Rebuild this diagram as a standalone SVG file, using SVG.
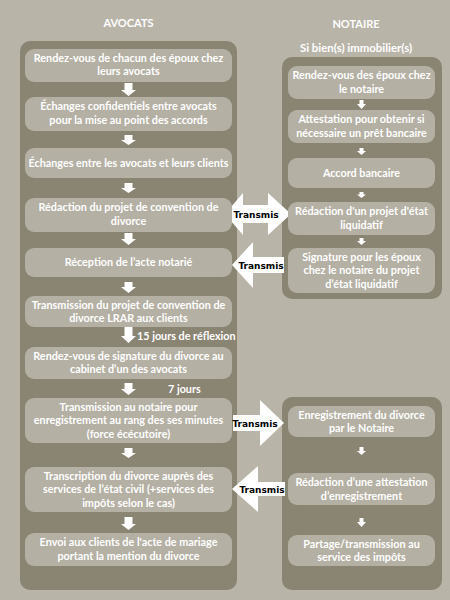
<svg xmlns="http://www.w3.org/2000/svg" width="450" height="600" viewBox="0 0 450 600">
<style>
.bg{fill:#b8b4a8}
.panel{fill:#8a8473}
.box{fill:#b4b0a3}
.t{font-family:Lato,"Open Sans","Liberation Sans",sans-serif;font-weight:700;font-size:10.8px;fill:#ffffff;text-anchor:middle}
.h{font-family:Lato,"Open Sans","Liberation Sans",sans-serif;font-weight:700;font-size:11px;fill:#ffffff;text-anchor:middle}
.s{font-family:Lato,"Open Sans","Liberation Sans",sans-serif;font-weight:700;font-size:11.4px;fill:#ffffff;text-anchor:middle}
.lab{font-family:Lato,"Open Sans","Liberation Sans",sans-serif;font-weight:700;font-size:10.8px;fill:#ffffff}
.tr{font-family:"DejaVu Sans","Liberation Sans",sans-serif;font-weight:700;font-size:9px;fill:#000000;text-anchor:middle}
.arr{fill:#ffffff}
</style>
<rect class="bg" x="0" y="0" width="450" height="600"/>
<text class="h" x="128.5" y="27">AVOCATS</text>
<text class="h" x="356" y="28">NOTAIRE</text>
<text class="s" x="356" y="52">Si bien(s) immobilier(s)</text>
<rect class="panel" x="20" y="41" width="217" height="549" rx="10"/>
<rect class="panel" x="282" y="57" width="160" height="242" rx="10"/>
<rect class="panel" x="282" y="397" width="160" height="193" rx="10"/>

<g id="connectors">
<path class="arr" d="M124.5,83 H132.5 V90 H136 L128.5,96 L121,90 H124.5 Z"/>
<path class="arr" d="M124.5,135 H132.5 V140 H136 L128.5,145 L121,140 H124.5 Z"/>
<path class="arr" d="M124.5,183 H132.5 V188 H136 L128.5,193 L121,188 H124.5 Z"/>
<path class="arr" d="M124.5,233 H132.5 V239 H136 L128.5,245 L121,239 H124.5 Z"/>
<path class="arr" d="M124.5,282 H132.5 V287 H136 L128.5,293 L121,287 H124.5 Z"/>
<path class="arr" d="M124.5,326 H132.5 V336 H136 L128.5,343 L121,336 H124.5 Z"/>
<path class="arr" d="M124.5,383 H132.5 V389 H136 L128.5,395 L121,389 H124.5 Z"/>
<path class="arr" d="M124.5,448 H132.5 V453 H136 L128.5,458 L121,453 H124.5 Z"/>
<path class="arr" d="M124.5,517 H132.5 V524 H136 L128.5,530 L121,524 H124.5 Z"/>
<path class="arr" d="M359.5,100 H363.5 V104 H366 L361.5,109 L357,104 H359.5 Z"/>
<path class="arr" d="M359.5,148 H363.5 V151 H366 L361.5,155 L357,151 H359.5 Z"/>
<path class="arr" d="M359.5,192 H363.5 V194.5 H366 L361.5,198 L357,194.5 H359.5 Z"/>
<path class="arr" d="M359.5,238 H363.5 V241 H366 L361.5,245 L357,241 H359.5 Z"/>
<path class="arr" d="M359.5,447 H363.5 V451 H366 L361.5,455 L357,451 H359.5 Z"/>
<path class="arr" d="M359.5,518 H363.5 V522 H366 L361.5,527 L357,522 H359.5 Z"/>
<text class="lab" x="137" y="340">15 jours de réflexion</text>
<text class="lab" x="168" y="393">7 jours</text>
<path class="arr" d="M225,214 L243,193 V205 H268 V193 L291,214 L268,235 V223 H243 V235 Z"/>
<text class="tr" x="256" y="217.5">Transmis</text>
<path class="arr" d="M232,265 L253,242 V257 H284 V273 H253 V288 Z"/>
<text class="tr" x="261" y="268.5">Transmis</text>
<path class="arr" d="M233,415 H260 V400 L284,423 L260,446 V431 H233 Z"/>
<text class="tr" x="255" y="426.5">Transmis</text>
<path class="arr" d="M232,489 L258,466 V482 H285 V496 H258 V512 Z"/>
<text class="tr" x="262" y="492.5">Transmis</text>
</g>

<g id="a1"><rect class="box" x="25" y="49" width="207" height="33" rx="9"/><text class="t" x="128.5" y="61.5">Rendez-vous de chacun des époux chez</text><text class="t" x="128.5" y="75">leurs avocats</text></g>
<g id="a2"><rect class="box" x="25" y="97" width="207" height="34" rx="9"/><text class="t" x="128.5" y="110">Échanges confidentiels entre avocats</text><text class="t" x="128.5" y="124">pour la mise au point des accords</text></g>
<g id="a3"><rect class="box" x="25" y="148" width="207" height="30" rx="9"/><text class="t" x="128.5" y="167">Échanges entre les avocats et leurs clients</text></g>
<g id="a4"><rect class="box" x="25" y="198" width="207" height="34" rx="9"/><text class="t" x="128.5" y="211">Rédaction du projet de convention de</text><text class="t" x="128.5" y="225">divorce</text></g>
<g id="a5"><rect class="box" x="25" y="248" width="207" height="29" rx="9"/><text class="t" x="128.5" y="266">Réception de l’acte notarié</text></g>
<g id="a6"><rect class="box" x="25" y="296" width="207" height="31" rx="9"/><text class="t" x="128.5" y="308.5">Transmission du projet de convention de</text><text class="t" x="128.5" y="321.5">divorce LRAR aux clients</text></g>
<g id="a7"><rect class="box" x="25" y="347" width="207" height="32" rx="9"/><text class="t" x="128.5" y="359.5">Rendez-vous de signature du divorce au</text><text class="t" x="128.5" y="373">cabinet d’un des avocats</text></g>
<g id="a8"><rect class="box" x="25" y="398" width="207" height="45" rx="9"/><text class="t" x="128.5" y="410.5">Transmission au notaire pour</text><text class="t" x="128.5" y="424">enregistrement au rang des ses minutes</text><text class="t" x="128.5" y="437.5">(force écécutoire)</text></g>
<g id="a9"><rect class="box" x="25" y="467" width="207" height="45" rx="9"/><text class="t" x="128.5" y="479.5">Transcription du divorce auprès des</text><text class="t" x="128.5" y="493">services de l’état civil (+services des</text><text class="t" x="128.5" y="506.5">impôts selon le cas)</text></g>
<g id="a10"><rect class="box" x="25" y="533" width="207" height="33" rx="9"/><text class="t" x="128.5" y="546">Envoi aux clients de l'acte de mariage</text><text class="t" x="128.5" y="559.5">portant la mention du divorce</text></g>

<g id="n1"><rect class="box" x="288" y="66" width="147" height="33" rx="9"/><text class="t" x="361.5" y="79">Rendez-vous des époux chez</text><text class="t" x="361.5" y="92.5">le notaire</text></g>
<g id="n2"><rect class="box" x="288" y="110" width="147" height="33" rx="9"/><text class="t" x="361.5" y="123">Attestation pour obtenir si</text><text class="t" x="361.5" y="136.5">nécessaire un prêt bancaire</text></g>
<g id="n3"><rect class="box" x="288" y="158" width="147" height="30" rx="9"/><text class="t" x="361.5" y="177">Accord bancaire</text></g>
<g id="n4"><rect class="box" x="288" y="202" width="147" height="33" rx="9"/><text class="t" x="361.5" y="215">Rédaction d'un projet d'état</text><text class="t" x="361.5" y="228.5">liquidatif</text></g>
<g id="n5"><rect class="box" x="288" y="248" width="147" height="45" rx="9"/><text class="t" x="361.5" y="260.5">Signature pour les époux</text><text class="t" x="361.5" y="274">chez le notaire du projet</text><text class="t" x="361.5" y="287.5">d’état liquidatif</text></g>
<g id="n6"><rect class="box" x="288" y="406" width="147" height="31" rx="9"/><text class="t" x="361.5" y="418.5">Enregistrement du divorce</text><text class="t" x="361.5" y="432">par le Notaire</text></g>
<g id="n7"><rect class="box" x="288" y="473" width="147" height="32" rx="9"/><text class="t" x="361.5" y="486">Rédaction d’une attestation</text><text class="t" x="361.5" y="499.5">d’enregistrement</text></g>
<g id="n8"><rect class="box" x="288" y="535" width="147" height="31" rx="9"/><text class="t" x="361.5" y="547.5">Partage/transmission au</text><text class="t" x="361.5" y="561">service des impôts</text></g>
</svg>
